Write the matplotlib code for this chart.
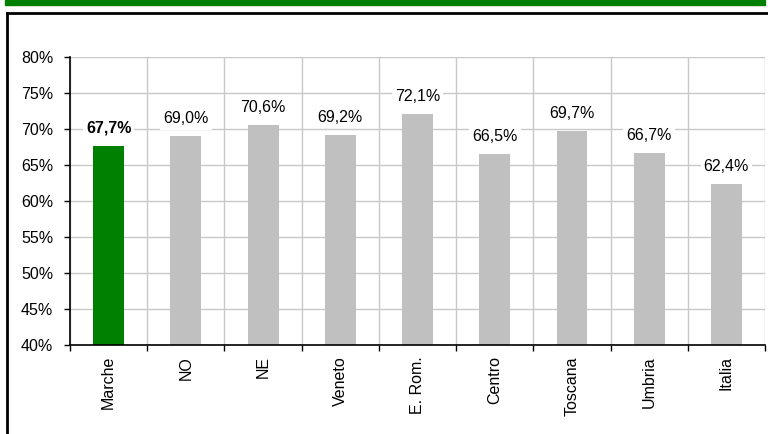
import matplotlib
matplotlib.use("Agg")
import matplotlib.pyplot as plt
from matplotlib.patches import Rectangle
from matplotlib.lines import Line2D

categories = ["Marche", "NO", "NE", "Veneto", "E. Rom.", "Centro", "Toscana", "Umbria", "Italia"]
values = [67.7, 69.0, 70.6, 69.2, 72.1, 66.5, 69.7, 66.7, 62.4]
highlight = "Marche"

plt.rcParams["font.family"] = ["Liberation Sans", "DejaVu Sans"]

W, H = 768, 434
fig = plt.figure(figsize=(W / 100, H / 100), dpi=100)

# green title band and black frame
fig.patches.append(Rectangle((5 / W, 1 - 5 / H), 760 / W, 5 / H, transform=fig.transFigure,
                             color="#008000", zorder=0))
fig.lines.append(Line2D([7 / W, 7 / W], [0, 1 - 13 / H], transform=fig.transFigure,
                        color="black", lw=2))
fig.lines.append(Line2D([7 / W, 1], [1 - 13 / H, 1 - 13 / H], transform=fig.transFigure,
                        color="black", lw=2))

ax = fig.add_axes([70 / W, 1 - 345 / H, 695 / W, 288 / H])

x = range(len(categories))
colors = ["#008000" if c == highlight else "#c0c0c0" for c in categories]
ax.bar(x, values, width=0.4, color=colors, zorder=2)

for i, (c, v) in enumerate(zip(categories, values)):
    ax.annotate(f"{v:.1f}%".replace(".", ","), (i, v), xytext=(0, 12.5),
                textcoords="offset points", ha="center", va="center", fontsize=11.5,
                fontweight="bold" if c == highlight else "normal",
                bbox=dict(boxstyle="square,pad=0.2", fc="white", ec="none"), zorder=3)

ax.set_xlim(-0.5, len(categories) - 0.5)
ax.set_ylim(40, 80)
ax.set_yticks(range(40, 81, 5))
ax.set_yticklabels([f"{t}%" for t in range(40, 81, 5)], fontsize=11.5)

# category boundaries for ticks and vertical gridlines
ax.set_xticks([i + 0.5 for i in range(-1, len(categories))])
ax.set_xticklabels([])
ax.set_xticks(list(x), minor=True)
ax.set_xticklabels(categories, minor=True, rotation=90, fontsize=11.5)
ax.tick_params(axis="x", which="minor", length=0, pad=8)
ax.tick_params(axis="x", which="major", length=4, width=1, direction="out")
ax.tick_params(axis="y", length=4, width=1, direction="out", pad=8)

ax.grid(True, which="major", color="#c8c8c8", lw=1, zorder=0)
ax.set_axisbelow(True)
for s in ["top", "right"]:
    ax.spines[s].set_visible(False)
for s in ["left", "bottom"]:
    ax.spines[s].set_linewidth(1.2)

fig.savefig("out.png", dpi=100)
